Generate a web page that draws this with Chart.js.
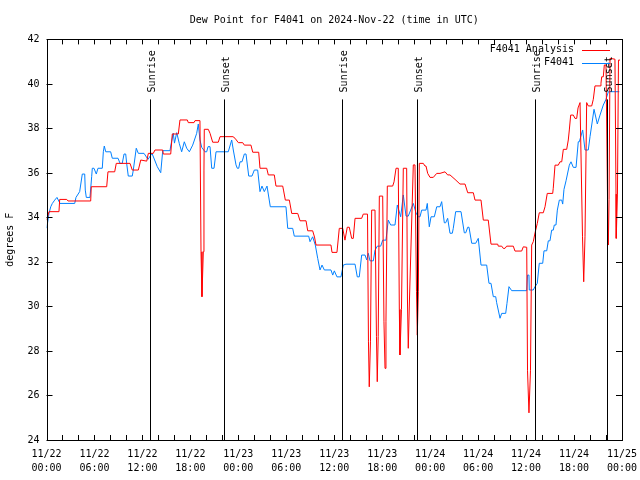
<!DOCTYPE html>
<html><head><meta charset="utf-8">
<script src="https://cdn.jsdelivr.net/npm/chart.js@4"></script>
<style>html,body{margin:0;padding:0;background:#fff}</style>
</head><body>
<canvas id="c" width="640" height="480"></canvas>
<script>
// ---- data (hours since 2024-11-22 00:00 UTC, dew point in °F) ----
const titleText = 'Dew Point for F4041 on 2024-Nov-22 (time in UTC)';
const yAxisLabel = 'degrees F';
const seriesNames = ['F4041 Analysis', 'F4041'];

const xTickDates = ['11/22','11/22','11/22','11/22','11/23','11/23','11/23','11/23','11/24','11/24','11/24','11/24','11/25'];
const xTickTimes = ['00:00','06:00','12:00','18:00','00:00','06:00','12:00','18:00','00:00','06:00','12:00','18:00','00:00'];

const sunTimes  = [12.95, 22.24, 37.01, 46.32, 61.12, 70.16];
const sunLabels = ['Sunrise','Sunset','Sunrise','Sunset','Sunrise','Sunset'];

const analysisHours = [
 0.03,0.31,1.56,1.65,2.53,2.69,5.53,5.60,7.53,7.69,
 8.53,8.73,10.45,10.73,11.49,11.79,12.54,12.74,13.36,13.57,
 14.54,14.61,15.54,15.74,16.49,16.70,17.62,17.74,18.45,18.58,
 19.20,19.33,19.45,19.62,19.70,19.74,20.24,20.46,20.79,21.49,
 21.71,23.33,23.58,24.00,24.55,24.75,25.58,25.80,26.55,26.71,
 27.55,27.75,28.50,28.71,29.55,29.65,29.88,30.38,30.68,31.43,
 31.72,32.47,32.68,33.30,33.53,33.72,35.59,35.72,36.34,36.63,
 37.06,37.34,37.63,37.88,38.18,38.38,38.60,39.43,39.63,40.16,
 40.28,40.38,40.53,40.68,41.10,41.28,41.38,41.50,41.64,42.06,
 42.22,42.35,42.47,42.64,43.31,43.48,43.60,43.73,44.01,44.14,
 44.22,44.41,44.64,45.06,45.16,45.26,45.41,45.89,46.10,46.29,
 46.39,46.52,46.64,47.14,47.35,47.48,47.69,47.98,48.39,48.82,
 49.23,49.86,50.19,50.48,51.11,51.73,52.36,52.70,53.40,53.61,
 54.36,54.65,55.27,55.61,56.45,56.52,56.95,57.15,57.36,57.57,
 58.40,58.61,59.45,59.65,60.08,60.18,60.36,60.55,60.70,60.90,
 61.12,61.40,61.65,62.15,62.37,62.65,63.33,63.40,63.62,64.03,
 64.24,64.46,64.66,65.08,65.28,65.41,65.58,65.91,66.12,66.33,
 66.50,66.75,66.87,67.06,67.21,67.37,67.58,67.78,68.21,68.41,
 68.62,69.25,69.37,69.46,69.66,69.79,70.00,70.19,70.29,70.38,
 70.50,71.12,71.25,71.28,71.43,71.56,71.75
];
const analysisValues = [
 33.88,34.26,34.26,34.81,34.81,34.74,34.74,35.38,35.38,36.05,
 36.05,36.43,36.43,36.13,36.13,36.58,36.53,36.88,36.88,37.03,
 37.03,36.85,36.85,37.75,37.75,38.38,38.38,38.26,38.26,38.35,
 38.35,32.46,30.44,32.46,36.13,37.96,37.96,37.78,37.38,37.38,
 37.63,37.63,37.56,37.36,37.36,37.25,37.25,36.93,36.93,36.21,
 36.21,35.91,35.91,35.41,35.41,35.23,34.78,34.78,34.18,34.18,
 33.85,33.85,33.40,33.40,33.12,32.76,32.76,32.43,32.43,33.51,
 33.51,32.98,33.56,33.56,33.06,33.06,33.96,33.96,34.15,34.15,
 28.41,26.39,28.41,34.33,34.33,28.64,26.62,28.64,34.96,34.96,
 29.31,27.22,29.31,35.41,35.41,35.60,35.60,36.21,36.21,29.87,
 27.82,29.87,36.21,36.21,30.29,28.12,30.29,36.36,36.36,30.66,
 28.71,30.66,36.43,36.43,36.31,36.31,35.98,35.80,35.80,35.98,
 35.98,36.05,35.91,35.91,35.71,35.50,35.50,35.11,35.11,34.78,
 34.78,33.88,33.88,32.80,32.80,32.71,32.71,32.61,32.61,32.71,
 32.71,32.49,32.49,32.68,32.66,27.11,25.22,27.11,32.76,32.91,
 33.31,33.73,34.21,34.21,34.48,35.08,35.08,35.31,36.35,36.35,
 36.50,36.50,37.06,37.06,37.48,37.93,38.60,38.60,38.45,38.45,
 38.92,39.16,39.16,33.13,31.11,33.13,39.16,39.01,39.01,39.31,
 39.91,39.91,40.03,40.32,40.32,40.85,40.85,34.81,32.76,34.81,
 41.15,41.11,35.05,33.06,35.05,41.07,41.07
];

const stationHours = [
 0.03,0.31,0.53,0.73,1.03,1.31,1.69,3.53,3.69,4.15,
 4.48,4.78,4.85,4.98,5.44,5.65,5.73,5.94,6.23,6.44,
 6.98,7.11,7.23,7.41,8.03,8.23,8.95,9.20,9.48,9.70,
 9.91,10.03,10.23,10.73,10.86,11.23,11.49,12.20,12.70,13.20,
 13.86,14.29,14.54,15.45,15.54,15.86,16.01,16.29,16.61,16.91,
 17.24,17.54,17.87,18.29,18.79,18.99,19.20,19.42,19.83,20.04,
 20.21,20.46,20.67,20.96,21.21,22.74,23.17,23.37,23.71,23.87,
 24.05,24.21,24.46,24.75,24.96,25.30,25.71,26.00,26.42,26.71,
 26.96,27.25,27.59,27.71,28.00,29.96,30.18,30.80,31.00,32.80,
 32.97,33.30,33.63,33.93,34.22,34.47,34.76,35.59,35.81,36.01,
 36.34,36.84,37.13,37.47,38.60,38.88,39.13,39.43,39.85,40.06,
 40.26,40.47,40.89,41.10,41.39,41.81,42.06,42.47,42.76,43.06,
 43.60,43.89,44.31,44.64,44.98,45.26,45.56,45.89,46.23,46.52,
 46.73,46.94,47.48,47.64,47.89,48.11,48.52,48.82,49.23,49.44,
 49.77,49.94,50.19,50.48,50.77,50.89,51.19,51.86,52.27,52.45,
 52.70,52.86,53.20,53.70,54.02,54.36,55.07,55.36,55.61,55.90,
 56.20,56.32,56.74,56.95,57.45,57.61,57.86,58.20,59.86,60.08,
 60.18,60.36,60.40,60.90,61.12,61.40,61.65,62.08,62.24,62.58,
 62.78,62.99,63.20,63.40,63.53,63.74,63.91,64.16,64.46,64.58,
 64.74,65.00,65.41,65.62,65.91,66.25,66.53,66.66,67.08,67.37,
 67.78,68.00,68.50,68.91,69.25,69.66,70.00,70.29,71.66
];
const stationValues = [
 33.52,34.18,34.48,34.63,34.78,34.90,34.63,34.63,34.90,35.16,
 35.95,35.95,35.23,34.90,34.90,35.83,36.21,36.21,35.95,36.21,
 36.21,36.95,37.21,36.95,36.95,36.66,36.66,36.43,36.43,36.85,
 36.85,36.43,35.86,35.86,36.13,37.11,36.88,36.88,36.61,36.88,
 36.28,36.01,37.00,37.00,37.21,37.78,37.34,37.81,37.33,36.95,
 37.40,37.11,36.95,37.25,37.78,38.20,37.48,37.15,36.95,36.95,
 37.18,37.18,36.21,36.21,36.95,36.95,37.48,37.03,36.36,36.21,
 36.21,36.50,36.50,36.85,36.85,35.86,35.86,36.13,36.13,35.16,
 35.41,35.16,35.41,35.41,34.48,34.48,33.51,33.51,33.16,33.16,
 32.91,33.13,32.76,32.16,31.64,31.86,31.64,31.64,31.41,31.60,
 31.33,31.33,31.86,31.90,31.90,31.33,31.33,32.31,32.31,32.09,
 32.39,32.05,32.05,32.53,32.71,32.71,32.98,32.98,33.88,33.66,
 33.66,34.56,34.03,35.01,34.06,34.06,34.33,34.63,34.20,34.03,
 34.03,34.33,34.33,34.63,33.58,34.03,34.03,34.48,34.48,34.71,
 33.76,33.76,33.96,33.29,33.29,33.51,34.26,34.26,33.31,33.31,
 33.56,33.56,32.84,32.84,33.06,31.86,31.86,31.04,31.04,30.44,
 30.44,30.17,29.47,29.69,29.69,30.14,30.89,30.71,30.71,30.71,
 31.41,31.41,30.74,30.74,30.89,31.04,31.94,31.94,32.50,32.50,
 32.95,32.95,33.43,33.43,33.66,33.66,34.33,34.78,34.78,34.60,
 35.26,35.65,36.35,36.50,36.25,36.25,37.40,37.40,37.93,37.03,
 37.03,37.63,38.86,38.20,38.60,39.05,39.31,39.65,39.65
];

// ---- chart ----
const FONT = "'DejaVu Sans Mono', 'Liberation Mono', monospace";
const toPts = (xs, ys) => xs.map((x, i) => ({x: x, y: ys[i]}));

const framePlugin = {
  id: 'frameTicks',
  afterDatasetsDraw(chart) {
    const {ctx, chartArea: a, scales} = chart;
    const xs = scales.x, ys = scales.y;
    ctx.save();
    // sunrise / sunset markers
    ctx.strokeStyle = '#000'; ctx.lineWidth = 1;
    ctx.fillStyle = '#000';
    ctx.font = '10px ' + FONT;
    sunTimes.forEach((t, i) => {
      const px = Math.round(xs.getPixelForValue(t)) + 0.5;
      ctx.beginPath(); ctx.moveTo(px, a.top + 60); ctx.lineTo(px, a.bottom); ctx.stroke();
      ctx.save();
      ctx.translate(px + 1.5, a.top + 53);
      ctx.rotate(-Math.PI / 2);
      ctx.textAlign = 'left'; ctx.textBaseline = 'middle';
      ctx.fillText(sunLabels[i], 0, 0);
      ctx.restore();
    });
    // frame
    ctx.strokeRect(Math.round(a.left) + 0.5, Math.round(a.top) + 0.5,
                   Math.round(a.right) - Math.round(a.left), Math.round(a.bottom) - Math.round(a.top));
    // inward ticks
    ctx.beginPath();
    for (let t = 0; t <= 72; t += 2) {
      const px = Math.round(xs.getPixelForValue(t)) + 0.5;
      ctx.moveTo(px, a.bottom); ctx.lineTo(px, a.bottom - 5);
      ctx.moveTo(px, a.top); ctx.lineTo(px, a.top + 5);
    }
    for (let v = 24; v <= 42; v += 2) {
      const py = Math.round(ys.getPixelForValue(v)) + 0.5;
      ctx.moveTo(a.left, py); ctx.lineTo(a.left + 6, py);
      ctx.moveTo(a.right, py); ctx.lineTo(a.right - 6, py);
    }
    ctx.stroke();
    // legend
    ctx.textAlign = 'right'; ctx.textBaseline = 'middle';
    chart.data.datasets.forEach((ds, i) => {
      const ly = a.top + 10.5 + i * 13;
      ctx.fillStyle = '#000';
      ctx.fillText(ds.label, a.right - 48, ly);
      ctx.strokeStyle = ds.borderColor;
      ctx.beginPath(); ctx.moveTo(a.right - 40, Math.round(ly) + 0.5); ctx.lineTo(a.right - 12, Math.round(ly) + 0.5); ctx.stroke();
    });
    ctx.restore();
  }
};

new Chart(document.getElementById('c'), {
  type: 'line',
  data: {
    datasets: [
      { label: seriesNames[0], data: toPts(analysisHours, analysisValues),
        borderColor: '#ff0000', borderWidth: 1, pointRadius: 0, tension: 0, fill: false },
      { label: seriesNames[1], data: toPts(stationHours, stationValues),
        borderColor: '#0080ff', borderWidth: 1, pointRadius: 0, tension: 0, fill: false }
    ]
  },
  options: {
    responsive: false,
    animation: false,
    layout: { padding: { left: 0, right: 18, top: 0, bottom: 0 } },
    plugins: {
      legend: { display: false },
      tooltip: { enabled: false },
      title: {
        display: true, text: titleText, color: '#000', fullSize: false,
        font: { family: FONT, size: 10, weight: 'normal', lineHeight: 1.2 },
        padding: { top: 14, bottom: 13.4 }
      }
    },
    scales: {
      x: {
        type: 'linear', min: 0, max: 72,
        grid: { display: false, drawTicks: false, tickLength: 0 },
        border: { display: false },
        afterFit(s) { s.height = 40; s.paddingRight = 0; s.paddingLeft = 0; },
        ticks: {
          stepSize: 6, autoSkip: false, maxRotation: 0, minRotation: 0,
          color: '#000', padding: 7,
          font: { family: FONT, size: 10, lineHeight: 1.4 },
          callback(v) { const i = Math.round(v / 6); return [xTickDates[i], xTickTimes[i]]; }
        }
      },
      y: {
        min: 24, max: 42,
        grid: { display: false, drawTicks: false, tickLength: 0 },
        border: { display: false },
        afterFit(s) { s.width = 46.5; },
        title: { display: true, text: yAxisLabel, color: '#000',
                 font: { family: FONT, size: 10, lineHeight: 1.2 }, padding: { top: 4, bottom: 0 } },
        ticks: { stepSize: 2, color: '#000', padding: 7,
                 font: { family: FONT, size: 10 } }
      }
    }
  },
  plugins: [framePlugin]
});
</script>
</body></html>
